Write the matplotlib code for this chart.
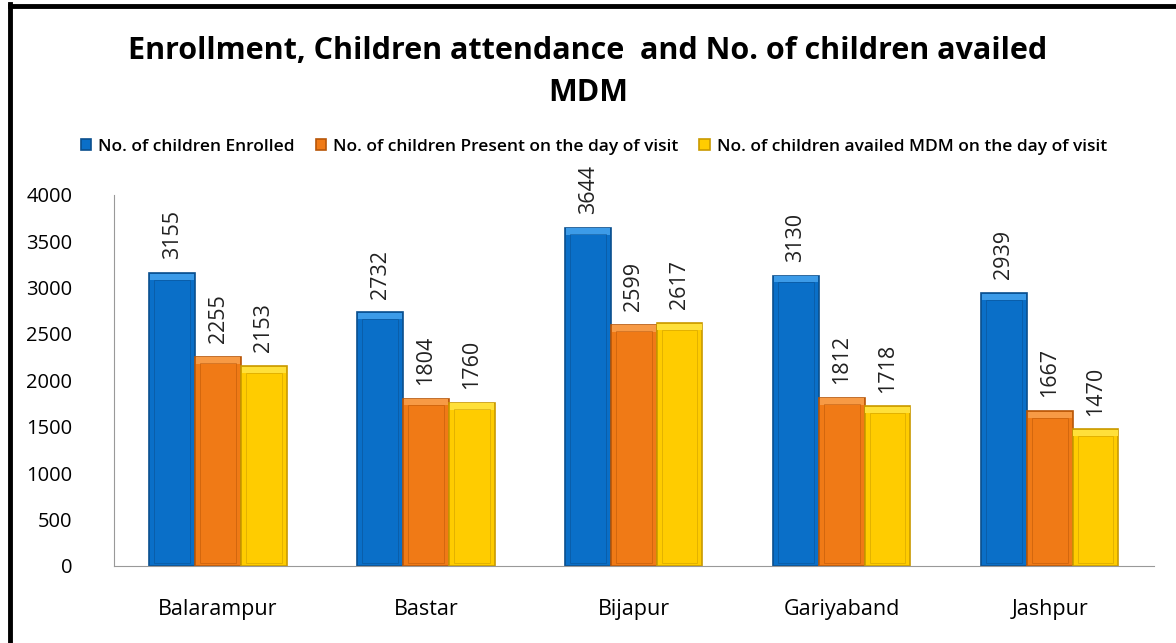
import matplotlib
matplotlib.use('Agg')
import matplotlib.pyplot as plt
import numpy as np
from matplotlib.lines import Line2D

districts = ['Balarampur', 'Bastar', 'Bijapur', 'Gariyaband', 'Jashpur']
enrolled = [3155, 2732, 3644, 3130, 2939]
present = [2255, 1804, 2599, 1812, 1667]
availed = [2153, 1760, 2617, 1718, 1470]
series_names = ['No. of children Enrolled',
                'No. of children Present on the day of visit',
                'No. of children availed MDM on the day of visit']
y_ticks = [0, 500, 1000, 1500, 2000, 2500, 3000, 3500, 4000]

colors = ['#0A6FC8', '#F07A16', '#FFCC00']
tops = ['#3C9BE8', '#F79A45', '#FFE03A']
edges = ['#0A4F8E', '#B85608', '#C99A00']

plt.rcParams['font.family'] = ['Open Sans', 'DejaVu Sans']

fig = plt.figure(figsize=(11.76, 6.43), dpi=100)
ax = fig.add_axes([0.097, 0.12, 0.884, 0.577])

x = np.arange(len(districts))
width = 0.22
for i, (vals, name) in enumerate(zip([enrolled, present, availed], series_names)):
    pos = x + (i - 1) * width
    vals = np.array(vals)
    ax.bar(pos, vals, width, color=colors[i], edgecolor=edges[i],
           linewidth=1.2, label=name, zorder=2)
    # lighter top cap and inner bevel line to mimic the 3D look
    ax.bar(pos, 70, width * 0.97, bottom=vals - 75, color=tops[i],
           linewidth=0, zorder=3)
    ax.bar(pos, vals - 100, width * 0.78, bottom=30, color='none',
           edgecolor=edges[i], linewidth=0.6, alpha=0.6, zorder=3)
    for p, v in zip(pos, vals):
        ax.text(p, v + 150, str(v), rotation=90, ha='center', va='bottom',
                fontsize=15.5, color='#222222')

ax.set_xlim(-0.5, len(districts) - 0.5)
ax.set_ylim(0, 4000)
ax.set_yticks(y_ticks)
ax.set_xticks(x)
ax.set_xticklabels(districts, fontsize=15.5)
ax.tick_params(axis='y', labelsize=14.5, length=0, pad=30)
ax.tick_params(axis='x', length=0, pad=24)
for s in ['top', 'right']:
    ax.spines[s].set_visible(False)
ax.spines['left'].set_color('#999999')
ax.spines['bottom'].set_color('#999999')

fig.text(0.5, 0.92, 'Enrollment, Children attendance  and No. of children availed',
         ha='center', va='center', fontsize=22, fontweight='bold')
fig.text(0.5, 0.855, 'MDM', ha='center', va='center', fontsize=22, fontweight='bold')

leg = fig.legend(loc='center', bbox_to_anchor=(0.505, 0.772), ncol=3, frameon=False,
                 fontsize=12.5, handlelength=0.6, handleheight=0.6,
                 handletextpad=0.4, columnspacing=1.2)
for t in leg.get_texts():
    t.set_fontweight('semibold')

# black frame on left and top edges
fig.add_artist(Line2D([0.0085, 0.0085], [0, 0.994], color='black', linewidth=3.5,
                      transform=fig.transFigure))
fig.add_artist(Line2D([0.0085, 1.0], [0.991, 0.991], color='black', linewidth=3.5,
                      transform=fig.transFigure))

fig.savefig('out.png', dpi=100)
